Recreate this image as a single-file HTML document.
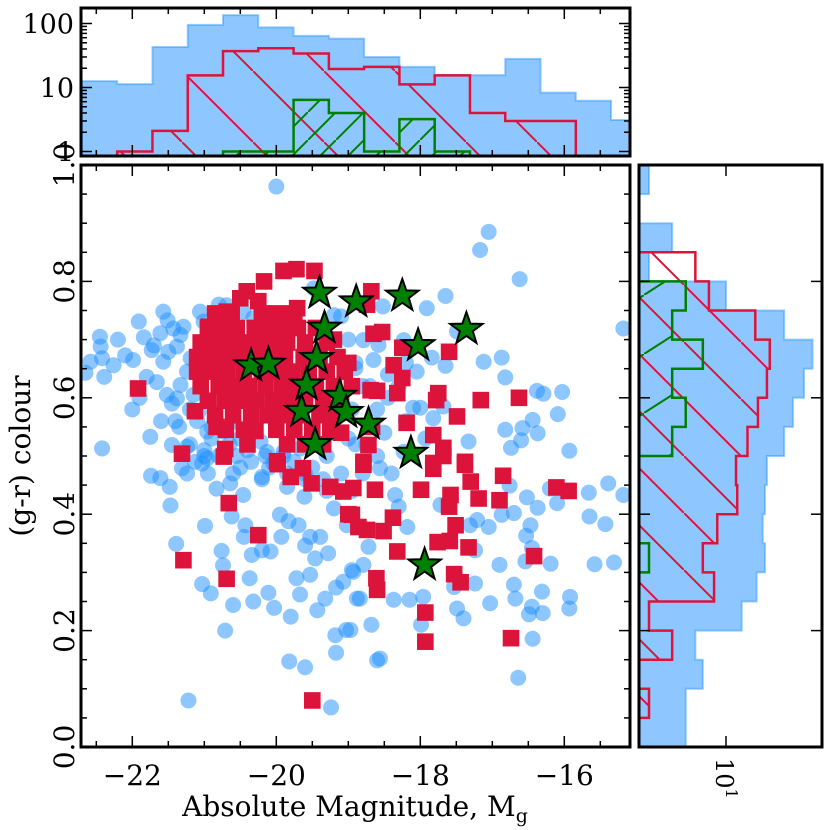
<!DOCTYPE html>
<html><head><meta charset="utf-8"><style>
html,body{margin:0;padding:0;background:#fff;}
svg{display:block;font-family:"DejaVu Serif","Liberation Serif",serif;}
</style></head><body>
<svg id="fig" width="830" height="830" viewBox="0 0 830 830" xmlns="http://www.w3.org/2000/svg">
<defs>
<clipPath id="clipMain"><rect x="81" y="165" width="549" height="582"/></clipPath>
<clipPath id="clipTop"><rect x="81" y="8" width="549" height="148"/></clipPath>
<clipPath id="clipRight"><rect x="639" y="165" width="183" height="582"/></clipPath>
<pattern id="hatchRedTop" patternUnits="userSpaceOnUse" width="71" height="71" x="40"><line x1="0" y1="0" x2="71" y2="71" stroke="#dc143c" stroke-width="2"/></pattern>
<pattern id="hatchGreenTop" patternUnits="userSpaceOnUse" width="28" height="28"><line x1="0" y1="28" x2="28" y2="0" stroke="#008000" stroke-width="2"/></pattern>
<pattern id="hatchRedRight" patternUnits="userSpaceOnUse" width="57" height="57"><line x1="0" y1="0" x2="57" y2="57" stroke="#dc143c" stroke-width="2"/></pattern>
<pattern id="hatchGreenRight" patternUnits="userSpaceOnUse" width="92" height="59"><line x1="0" y1="59" x2="92" y2="0" stroke="#008000" stroke-width="2"/></pattern>
</defs>
<g id="topG" clip-path="url(#clipTop)"></g>
<g id="rightG" clip-path="url(#clipRight)"></g>
<g id="mainG" clip-path="url(#clipMain)"></g>
<g id="axesG"></g>
<text x="355" y="816" font-size="28" text-anchor="middle">Absolute Magnitude, M<tspan font-size="19" dy="6">g</tspan></text>
<text transform="translate(30,456) rotate(-90)" font-size="28" text-anchor="middle">(g-r) colour</text>
</svg>
<script>
// ---------- data ----------
const topBinStart = -22.7;
const topBinWidth = 0.49;
const topBlueCounts = [12.6,11.3,43,95,135,87,64,58,30,21,15.6,15.6,28,8.3,6.2,3.1];
const topRedCounts  = [0,1,2.1,15.5,37,41,34,19.5,21,11.2,15.5,4,3,3,0,0];
const topGreenCounts= [0,0,0,0,1,1,6.4,4,1,3.2,1,0,0,0,0,0];
const rightBinEdgesStart = 0.0;
const rightBinWidth = 0.05;
// from colour 0.00-0.05 upward
const rightBlueCounts = [3,3,5,4,16,25,32,30,32,34,57,74,103,133,57,10,1,2,0,1];
const rightRedCounts  = [0,1,0,2,1,7,5,7.7,14,13.5,19,26,34,37,24,6,4,0,0,0];
const rightGreenCounts= [0,0,0,0,0,0,1,0,0,0,2,3,2,5,2,3,0,0,0,0];

const starMag = [-19.40,-18.89,-18.25,-17.36,-19.33,-18.03,-19.44,-20.35,-20.11,-19.58,-19.12,-19.03,-19.65,-18.72,-19.46,-18.13,-17.94];
const starCol = [0.78,0.765,0.775,0.718,0.72,0.69,0.668,0.655,0.658,0.622,0.603,0.575,0.577,0.555,0.52,0.505,0.313];

const redMag = [-21.92,-21.13,-20.83,-20.71,-21.31,-20.29,-19.99,-20.17,-19.90,-19.72,-19.47,-20.41,-20.25,-20.5,-20.69,-20.94,-19.71,
-18.68,-18.74,-18.65,-18.53,-18.25,-17.6,-18.37,-18.25,-18.32,-18.69,-18.6,-17.75,-17.78,-17.16,-16.63,-17.49,-18.19,-18.67,-17.82,-17.68,-17.38,-17.82,-18.79,-18.72,
-18.79,-18.63,-18.93,-18.95,-18.38,-18.74,-18.51,-18.32,-18.61,-18.6,-17.99,-17.82,-17.38,-17.3,-17.19,-17.58,-17.6,-17.51,-17.76,-17.59,-17.33,-17.53,-17.44,-16.9,-16.85,-16.42,-16.11,-15.94,-17.93,-17.93,-16.74,-17.68,
-20.73,-19.98,-19.8,-19.51,-19.25,-19.07,-19.0,-18.86,-20.66,-20.25,-21.29,-20.69,-19.5,-19.63,
-20.85,-20.62,-20.2,-19.98,-19.75,
-20.95,-20.75,-20.55,-20.3,-20.1,-19.9,-19.7,-19.45,
-21.05,-20.85,-20.65,-20.45,-20.25,-20.05,-19.85,-19.6,-19.3,
-21.1,-20.9,-20.7,-20.5,-20.3,-20.1,-19.88,-19.62,-19.4,-19.15,
-21.1,-20.88,-20.68,-20.45,-20.2,-20.0,-19.78,-19.55,-19.3,-19.05,
-21.05,-20.8,-20.6,-20.38,-20.15,-19.92,-19.7,-19.45,-19.2,
-20.95,-20.72,-20.5,-20.28,-20.05,-19.82,-19.6,-19.35,-19.1,
-20.85,-20.6,-20.35,-20.12,-19.9,-19.68,-19.4,-19.2,
-20.7,-20.45,-20.0,-19.75,-19.5,-19.25,
-20.4,-19.85,-19.6,-19.35,-19.2,-19.0,-19.1,-18.95];
const redCol = [0.616,0.577,0.55,0.512,0.504,0.543,0.491,0.80,0.818,0.821,0.818,0.783,0.766,0.771,0.748,0.722,0.754,
0.783,0.76,0.71,0.713,0.686,0.679,0.656,0.634,0.608,0.613,0.612,0.608,0.596,0.596,0.60,0.568,0.557,0.55,0.536,0.514,0.49,0.488,0.49,0.519,
0.485,0.442,0.445,0.399,0.394,0.373,0.371,0.336,0.29,0.27,0.442,0.478,0.485,0.456,0.427,0.433,0.413,0.381,0.352,0.354,0.343,0.297,0.283,0.424,0.466,0.328,0.446,0.44,0.231,0.181,0.187,0.50,
0.499,0.486,0.464,0.453,0.447,0.439,0.40,0.378,0.419,0.364,0.321,0.289,0.08,0.479,
0.745,0.745,0.745,0.745,0.745,
0.72,0.72,0.72,0.72,0.72,0.72,0.72,0.72,
0.695,0.695,0.695,0.695,0.695,0.695,0.695,0.695,0.695,
0.67,0.67,0.67,0.67,0.67,0.67,0.67,0.67,0.67,0.67,
0.645,0.645,0.645,0.645,0.645,0.645,0.645,0.645,0.645,0.645,
0.62,0.62,0.62,0.62,0.62,0.62,0.62,0.62,0.62,
0.595,0.595,0.595,0.595,0.595,0.595,0.595,0.595,0.595,
0.57,0.57,0.57,0.57,0.57,0.57,0.57,0.57,
0.545,0.545,0.545,0.545,0.545,0.545,
0.52,0.52,0.52,0.52,0.70,0.66,0.54,0.62];

const blueMag = [-20.0,-22.45,-22.44,-22.42,-22.58,-22.65,-22.39,-22.26,-22.1,-21.99,-21.91,-21.84,-21.8,-21.73,-21.61,-21.57,-21.51,-21.43,-21.33,-21.29,-21.57,-21.5,-21.38,-21.66,-21.52,-21.38,-21.33,-21.24,-21.19,-21.75,-22.42,-21.45,-21.24,-21.01,-21.06,-20.69,-20.46,-20.32,-19.48,-19.2,-21.08,-21.15,-20.96,-20.73,-20.59,-20.5,-20.22,-20.13,-19.9,-19.67,-20.96,-21.13,
-17.05,-17.17,-16.62,-17.65,-17.91,-18.52,-15.18,-17.49,-17.12,-16.87,-16.82,-17.65,-17.84,-18.05,-18.23,-18.79,-18.58,-18.65,-18.9,-16.38,-16.29,-16.03,-16.09,-16.44,-16.58,-16.82,-16.37,-16.6,-16.74,-15.93,-17.33,-18.1,-18.0,-17.82,-17.68,-17.93,-18.23,
-18.56,-18.35,-18.3,-18.18,-18.72,-18.79,-18.93,-18.84,-18.37,-18.15,-17.96,-17.99,-18.68,-18.97,-18.56,-18.6,-17.72,-17.21,-17.05,-17.31,-17.24,-17.24,-17.53,-17.49,-17.4,-17.03,-16.68,-16.7,-16.9,-16.54,-16.45,-16.49,-16.3,-16.31,-16.44,-16.64,-16.19,-15.92,-15.93,-15.58,-15.31,-15.66,-15.39,-15.18,-15.65,-15.43,-16.1,-16.37,-16.52,-16.7,-16.87,-16.47,-16.53,-16.45,-16.76,-16.2,
-21.74,-21.61,-21.48,-21.47,-21.31,-21.24,-20.99,-21.39,-21.03,-20.91,-20.76,-20.74,-20.6,-20.71,-21.22,-21.03,-20.83,-20.64,-20.46,-20.62,-20.43,-20.45,-20.34,-20.2,-20.08,-20.37,-20.32,-20.11,-20.03,-19.8,-19.95,-19.93,-19.83,-19.69,-19.53,-19.39,-19.6,-19.46,-19.28,-19.72,-19.53,-19.67,-19.43,-19.32,-19.17,-19.07,-18.95,-18.88,-19.18,-19.03,-19.17,-19.82,-19.6,-19.24,-20.04,-20.2,-19.85,-19.61,-19.2,-19.02,
-18.9,-18.8,-18.95,-18.6,-18.5,-18.9,-18.6,-18.4,-18.8,-19.1,-19.3,-18.3,-18.45,-19.0,-19.1,-19.9,-20.6,-21.0,-20.8,-20.2,-19.6,-18.7,-18.2,-21.7,-21.9,-22.2,-22.0,-21.4,-20.9,-20.5,-19.3,-18.95,-18.45,-18.2,
-21.2,-21.0,-20.8,-20.55,-20.35,-20.1,-19.85,-19.6,-19.35,-21.6,-21.35,-21.1,-20.9,-20.65,-20.4,-20.15,-19.75,-19.5,-21.45,-21.2,-20.95,-19.25,-19.0,-18.75];
const blueCol = [0.963,0.705,0.688,0.668,0.662,0.643,0.636,0.656,0.673,0.665,0.731,0.704,0.636,0.682,0.711,0.748,0.733,0.719,0.708,0.722,0.662,0.679,0.688,0.627,0.605,0.599,0.622,0.645,0.668,0.533,0.513,0.519,0.516,0.731,0.748,0.759,0.748,0.737,0.788,0.742,0.576,0.605,0.542,0.542,0.559,0.53,0.525,0.507,0.507,0.513,0.496,0.49,
0.885,0.854,0.804,0.775,0.754,0.757,0.719,0.714,0.662,0.669,0.635,0.655,0.669,0.645,0.699,0.699,0.691,0.665,0.651,0.612,0.607,0.61,0.572,0.562,0.548,0.545,0.539,0.527,0.514,0.509,0.525,0.583,0.583,0.565,0.585,0.53,0.507,
0.479,0.433,0.413,0.378,0.344,0.313,0.301,0.255,0.253,0.253,0.258,0.21,0.21,0.201,0.152,0.149,0.416,0.39,0.378,0.381,0.338,0.281,0.275,0.238,0.221,0.247,0.255,0.279,0.313,0.319,0.241,0.228,0.23,0.267,0.186,0.119,0.315,0.258,0.238,0.314,0.317,0.437,0.453,0.433,0.396,0.383,0.419,0.411,0.429,0.402,0.399,0.381,0.363,0.342,0.449,0.444,
0.466,0.462,0.447,0.415,0.479,0.47,0.38,0.349,0.28,0.264,0.337,0.312,0.244,0.2,0.08,0.487,0.444,0.453,0.433,0.396,0.381,0.361,0.33,0.338,0.336,0.29,0.25,0.265,0.239,0.224,0.399,0.361,0.388,0.381,0.361,0.361,0.346,0.324,0.333,0.29,0.296,0.262,0.235,0.255,0.274,0.284,0.304,0.255,0.192,0.201,0.162,0.147,0.137,0.068,0.487,0.464,0.447,0.43,0.41,0.381,
0.66,0.62,0.58,0.58,0.54,0.52,0.50,0.47,0.47,0.47,0.50,0.62,0.64,0.70,0.74,0.50,0.47,0.50,0.76,0.46,0.46,0.62,0.56,0.69,0.60,0.70,0.58,0.56,0.55,0.48,0.44,0.44,0.60,0.66,
0.52,0.51,0.50,0.50,0.49,0.48,0.47,0.47,0.46,0.56,0.55,0.56,0.53,0.52,0.51,0.50,0.49,0.48,0.59,0.58,0.47,0.54,0.53,0.52];

// ---------- scales ----------
const X = m => 132.3 + (m + 22) * 72;
const Y = c => 747 - c * 582;
const TY = v => v <= 0 ? 170 : 151.5 - Math.log10(v) * 64;
const RX = v => v <= 0 ? 630 : 649 + Math.log10(v) * 77;
const NS = "http://www.w3.org/2000/svg";
function mk(tag, attrs, parent) {
  const e = document.createElementNS(NS, tag);
  for (const k in attrs) e.setAttribute(k, attrs[k]);
  parent.appendChild(e);
  return e;
}
const topG = document.getElementById('topG');
const rightG = document.getElementById('rightG');
const mainG = document.getElementById('mainG');
const axesG = document.getElementById('axesG');

// ---------- top histogram ----------
function topPath(counts) {
  const base = 170;
  let d = `M${X(topBinStart)},${base}`;
  counts.forEach((c, i) => {
    const x0 = X(topBinStart + i * topBinWidth), x1 = X(topBinStart + (i + 1) * topBinWidth);
    d += ` L${x0},${TY(c)} L${x1},${TY(c)}`;
  });
  d += ` L${X(topBinStart + counts.length * topBinWidth)},${base} Z`;
  return d;
}
let p;
p = mk('path', {d: topPath(topBlueCounts), fill: 'rgba(30,144,255,0.5)', stroke: 'rgba(30,144,255,0.45)', 'stroke-width': 2}, topG);


p = mk('path', {d: topPath(topRedCounts), fill: 'url(#hatchRedTop)', stroke: '#dc143c', 'stroke-width': 2.5}, topG);


p = mk('path', {d: topPath(topGreenCounts), fill: 'url(#hatchGreenTop)', stroke: '#008000', 'stroke-width': 2.5}, topG);



// ---------- right histogram ----------
function rightPath(counts) {
  const base = 630;
  let d = `M${base},${Y(rightBinEdgesStart)}`;
  counts.forEach((c, i) => {
    const y0 = Y(rightBinEdgesStart + i * rightBinWidth), y1 = Y(rightBinEdgesStart + (i + 1) * rightBinWidth);
    d += ` L${RX(c)},${y0} L${RX(c)},${y1}`;
  });
  d += ` L${base},${Y(rightBinEdgesStart + counts.length * rightBinWidth)} Z`;
  return d;
}
p = mk('path', {d: rightPath(rightBlueCounts), fill: 'rgba(30,144,255,0.5)', stroke: 'rgba(30,144,255,0.45)', 'stroke-width': 2}, rightG);


p = mk('path', {d: rightPath(rightRedCounts), fill: 'url(#hatchRedRight)', stroke: '#dc143c', 'stroke-width': 2.5}, rightG);


p = mk('path', {d: rightPath(rightGreenCounts), fill: 'url(#hatchGreenRight)', stroke: '#008000', 'stroke-width': 2.5}, rightG);



// ---------- scatter ----------
blueMag.forEach((m, i) => {
  const c = mk('circle', {cx: X(m), cy: Y(blueCol[i]), r: 8, fill: 'rgba(30,144,255,0.5)'}, mainG);
  
  
});
redMag.forEach((m, i) => {
  const r = mk('rect', {x: X(m) - 8.3, y: Y(redCol[i]) - 8.3, width: 16.6, height: 16.6, fill: '#dc143c'}, mainG);
  
  
});
function starPts(cx, cy, R) {
  const r = R * 0.4;
  let pts = [];
  for (let k = 0; k < 10; k++) {
    const a = -Math.PI / 2 + k * Math.PI / 5;
    const rr = k % 2 ? r : R;
    pts.push((cx + rr * Math.cos(a)).toFixed(1) + ',' + (cy + rr * Math.sin(a)).toFixed(1));
  }
  return pts.join(' ');
}
starMag.forEach((m, i) => {
  const s = mk('polygon', {points: starPts(X(m), Y(starCol[i]), 17), fill: '#008000', stroke: '#000', 'stroke-width': 2, 'stroke-linejoin': 'miter'}, mainG);
  
  
});

// ---------- axes ----------
function line(x1, y1, x2, y2, w) { return mk('line', {x1, y1, x2, y2, stroke: '#000', 'stroke-width': w || 1.5}, axesG); }
function frame(x, y, w, h, name) {
  const r = mk('rect', {x, y, width: w, height: h, fill: 'none', stroke: '#000', 'stroke-width': 3}, axesG);
  
  
}
frame(81, 165, 549, 582, 'main-frame');
frame(81, 8, 549, 148, 'top-frame');
frame(639, 165, 183, 582, 'right-frame');

for (let m = -22.5; m <= -15.2; m += 0.5) {
  const major = Math.abs(m - Math.round(m / 2) * 2) < 1e-6;
  const L = major ? 11 : 6;
  const x = X(m);
  line(x, 747, x, 747 - L); line(x, 165, x, 165 + L);
  line(x, 156, x, 156 - L); line(x, 8, x, 8 + L);
}
const xTickLabels = ['\u221222', '\u221220', '\u221218', '\u221216'];
const xTickVals = [-22, -20, -18, -16];
xTickVals.forEach((v, i) => {
  const t = mk('text', {x: X(v), y: 785, 'font-size': 28, 'text-anchor': 'middle'}, axesG);
  t.textContent = xTickLabels[i];
  
  
});
for (let k = 0; k <= 20; k++) {
  const c = k * 0.05, y = Y(c);
  const L = k % 4 === 0 ? 11 : 6;
  line(81, y, 81 + L, y); line(630, y, 630 - L, y);
}
const yTickLabels = ['0.0', '0.2', '0.4', '0.6', '0.8', '1.0'];
const yTickVals = [0, 0.2, 0.4, 0.6, 0.8, 1.0];
yTickVals.forEach((v, i) => {
  const t = mk('text', {transform: `translate(74,${Y(v)}) rotate(-90)`, 'font-size': 28, 'text-anchor': 'middle'}, axesG);
  t.textContent = yTickLabels[i];
  
  
});
for (let dec = 0; dec <= 2; dec++) {
  for (let k = 1; k <= 9; k++) {
    const v = k * Math.pow(10, dec);
    const y = TY(v);
    if (y < 9 || y > 155) continue;
    const L = k === 1 ? 11 : 6;
    line(81, y, 81 + L, y); line(630, y, 630 - L, y);
  }
}
const topTickLabels = ['1', '10', '100'];
const topTickVals = [1, 10, 100];
topTickVals.forEach((v, i) => {
  const t = mk('text', {x: 74, y: TY(v) + 10, 'font-size': 27, 'text-anchor': 'end'}, axesG);
  t.textContent = topTickLabels[i];
  
  
});
[0.2, 0.4, 0.6, 0.8].forEach(v => { line(639, Y(v), 650, Y(v)); line(822, Y(v), 811, Y(v)); });
line(RX(10), 747, RX(10), 736); line(RX(10), 165, RX(10), 176);
const rt = mk('text', {transform: `translate(${RX(10) - 10},758) rotate(90)`, 'font-size': 24}, axesG);
rt.innerHTML = '10<tspan font-size="16" dy="-10">1</tspan>';


</script>
</body></html>
